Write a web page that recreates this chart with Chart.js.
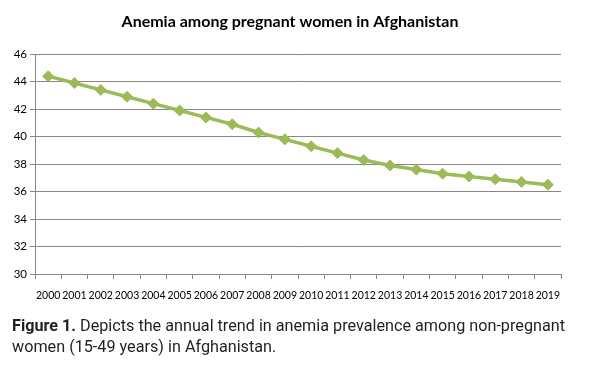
<!DOCTYPE html>
<html>
<head>
<meta charset="utf-8">
<script src="https://cdn.jsdelivr.net/npm/chart.js@4/dist/chart.umd.min.js"></script>
<style>
  html, body { margin: 0; padding: 0; background: #fff; }
  #wrap { position: relative; width: 593px; height: 368px; overflow: hidden; }
  #c { position: absolute; left: 0; top: 0; }
  #cap { position: absolute; left: 12px; top: 315px; font-family: Roboto, sans-serif; font-size: 16.2px; line-height: 21px; color: #231f20; white-space: nowrap; }
  #cap b { font-weight: 700; }
</style>
</head>
<body>
<div id="wrap">
  <canvas id="c" width="593" height="320"></canvas>
  <div id="cap"><b>Figure 1.</b> Depicts the annual trend in anemia prevalence among non-pregnant<br>women (15-49 years) in Afghanistan.</div>
</div>
<script>
const titleText = "Anemia among pregnant women in Afghanistan";
const years = ["2000","2001","2002","2003","2004","2005","2006","2007","2008","2009","2010","2011","2012","2013","2014","2015","2016","2017","2018","2019"];
const anemia = [44.4, 43.9, 43.4, 42.9, 42.4, 41.9, 41.4, 40.9, 40.3, 39.8, 39.3, 38.8, 38.3, 37.9, 37.6, 37.3, 37.1, 36.9, 36.7, 36.5];
const yMin = 30, yMax = 46, yStep = 2;

// center the title over the full figure width (as in the source image)
const titleCenter = {
  id: 'titleCenter',
  afterLayout(chart) {
    const t = chart.titleBlock;
    if (t) { t.left = 0; t.right = 580; }
  }
};

new Chart(document.getElementById('c'), {
  type: 'line',
  data: {
    labels: years,
    datasets: [{
      data: anemia,
      borderColor: '#9bbb59',
      backgroundColor: '#9bbb59',
      borderWidth: 3.5,
      pointStyle: 'rectRot',
      pointRadius: 5.5,
      pointBorderWidth: 1,
      pointBorderColor: '#9bbb59',
      pointBackgroundColor: '#9bbb59',
      tension: 0
    }]
  },
  plugins: [titleCenter],
  options: {
    responsive: false,
    animation: false,
    devicePixelRatio: 1,
    layout: { padding: { left: 0, right: 32, top: 0, bottom: 0 } },
    plugins: {
      legend: { display: false },
      tooltip: { enabled: false },
      title: {
        display: true,
        text: titleText,
        color: '#000',
        font: { family: 'Lato', size: 16, weight: 'bold' },
        padding: { top: 12, bottom: 23 }
      }
    },
    scales: {
      x: {
        offset: true,
        grid: { display: true, offset: true, drawOnChartArea: false, drawTicks: true, tickLength: 5, color: '#868686' },
        border: { display: true, color: '#868686', width: 1 },
        ticks: { color: '#000', font: { family: 'Lato', size: 10.5 }, padding: 10, maxRotation: 0, autoSkip: false },
        afterFit: s => { s.height = 46; }
      },
      y: {
        min: yMin, max: yMax,
        grid: { color: '#868686', lineWidth: 1, tickLength: 5, drawTicks: true },
        border: { display: true, color: '#868686', width: 1 },
        ticks: { stepSize: yStep, color: '#000', font: { family: 'Lato', size: 11.5 }, padding: 3 },
        afterFit: s => { s.width = 35; }
      }
    }
  }
});
</script>
</body>
</html>
